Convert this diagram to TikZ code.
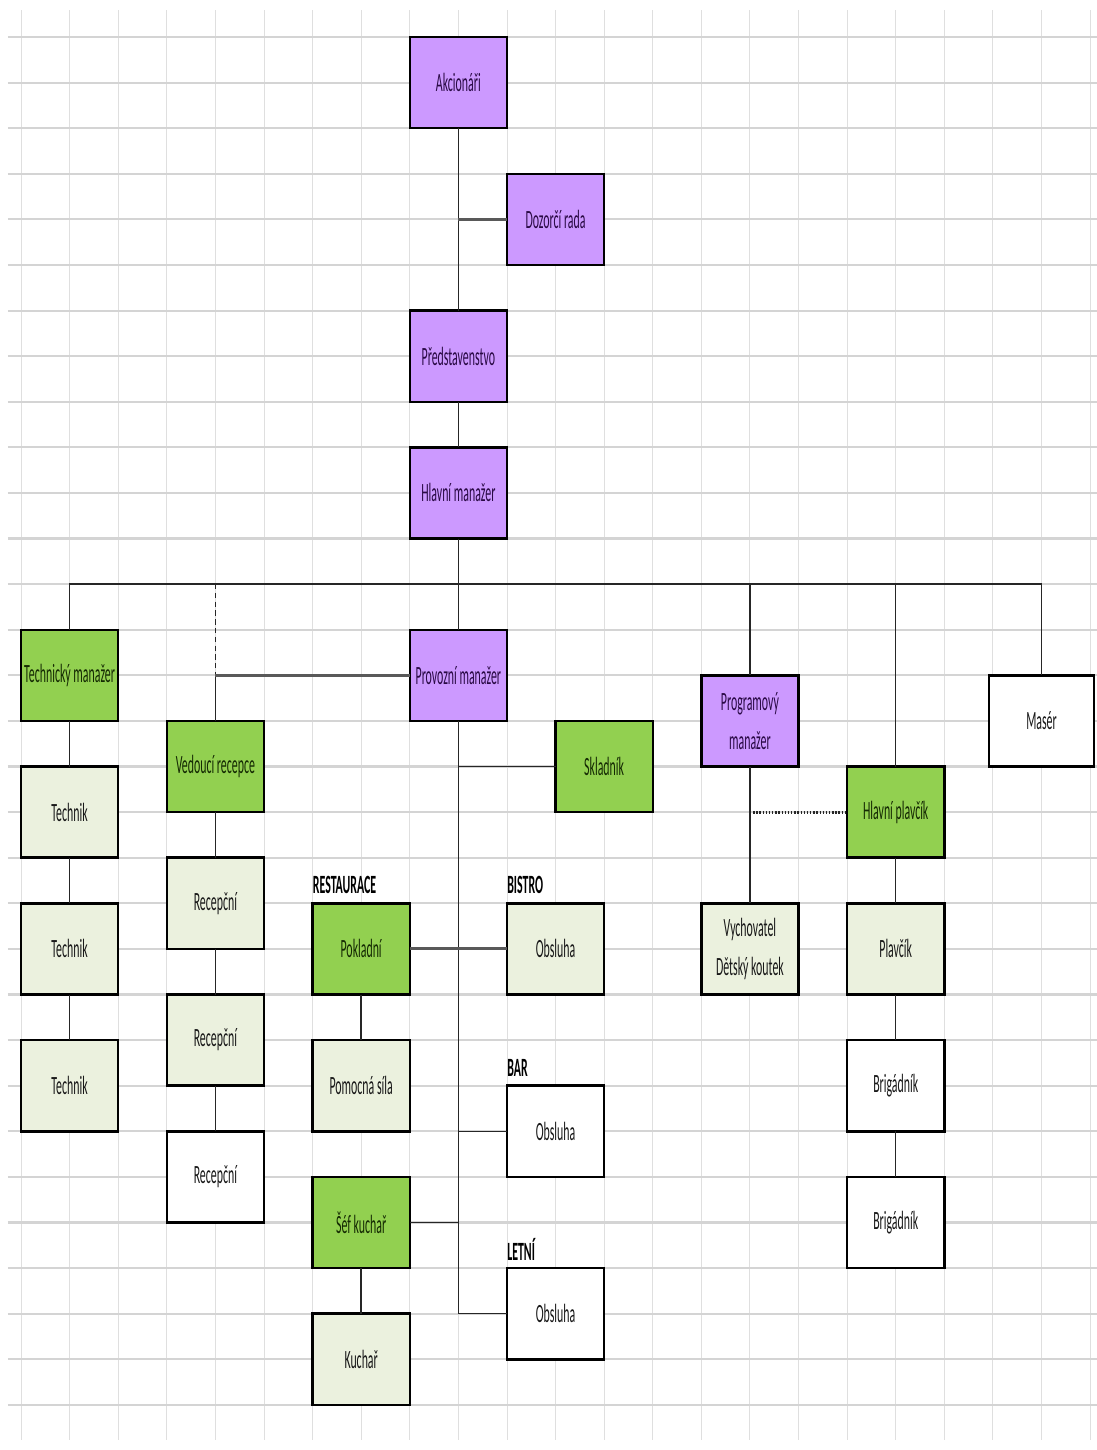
\documentclass[tikz,border=0pt]{standalone}
\usepackage{fontspec}
\setmainfont{Carlito}[FakeStretch=0.45]
\usetikzlibrary{positioning}

\definecolor{purplebox}{HTML}{CC99FF}
\definecolor{greenbox}{HTML}{92D050}
\definecolor{lightbox}{HTML}{EBF1DE}
\definecolor{gridgray}{HTML}{D4D4D4}
\definecolor{purpletext}{HTML}{2A0A45}
\definecolor{greentext}{HTML}{152A03}

\begin{document}
\begin{tikzpicture}[
  x=0.972cm, y=-0.912cm,
  box/.style={rectangle,draw=black,line width=1.4pt,minimum width=1.944cm,
              minimum height=1.824cm,inner sep=1pt,outer sep=0pt,align=center,
              font=\fontsize{15pt}{22pt}\selectfont,
              append after command={[draw=black,line width=2.4pt]
                (\tikzlastnode.south west) -- (\tikzlastnode.south east)}},
  purplebx/.style={box,fill=purplebox,text=purpletext},
  greenbx/.style={box,fill=greenbox,text=greentext},
  lightbx/.style={box,fill=lightbox,text=black!90},
  whitebx/.style={box,fill=white,text=black!90},
  section/.style={font=\fontsize{15pt}{18pt}\selectfont\bfseries,anchor=west,inner sep=0pt},
  conn/.style={draw=black!85,line width=0.8pt},
  thickconn/.style={draw=black!65,line width=1.8pt},
  gridv/.style={draw=gridgray!75,line width=0.5pt},
  gridh/.style={draw=gridgray,line width=1.2pt},
]

\useasboundingbox (-0.432,-0.811) rectangle (22.14,30.99);
\fill[white] (-0.432,-0.811) rectangle (22.14,30.99);

% === sheet grid ===
\foreach \c in {0,...,22} \draw[gridv] (\c,-0.59) -- (\c,30.76);
\foreach \r in {0,...,30} \draw[gridh] (-0.27,\r) -- (22.14,\r);

% === top management ===
\node[purplebx] (akc) at (9,1) {Akcionáři};
\node[purplebx] (dozor) at (11,4) {Dozorčí rada};
\node[purplebx] (pred) at (9,7) {Představenstvo};
\node[purplebx] (hlm) at (9,10) {Hlavní manažer};

% === second level ===
\node[greenbx] (techm) at (1,14) {Technický manažer};
\node[greenbx] (vedr) at (4,16) {Vedoucí recepce};
\node[purplebx] (provm) at (9,14) {Provozní manažer};
\node[greenbx] (sklad) at (12,16) {Skladník};
\node[purplebx] (progm) at (15,15) {Programový\\manažer};
\node[whitebx,minimum width=2.1cm] (maser) at (21,15) {Masér};
\node[greenbx] (hlpl) at (18,17) {Hlavní plavčík};

% === technici, recepce ===
\node[lightbx] (tech1) at (1,17) {Technik};
\node[lightbx] (tech2) at (1,20) {Technik};
\node[lightbx] (tech3) at (1,23) {Technik};
\node[lightbx] (rec1) at (4,19) {Recepční};
\node[lightbx] (rec2) at (4,22) {Recepční};
\node[whitebx] (rec3) at (4,25) {Recepční};

% === restaurace, bistro, bar, letni ===
\node[section] (lblrest) at (6,18.6) {RESTAURACE};
\node[greenbx] (pokl) at (7,20) {Pokladní};
\node[lightbx] (pomoc) at (7,23) {Pomocná síla};
\node[greenbx] (sef) at (7,26) {Šéf kuchař};
\node[lightbx] (kuch) at (7,29) {Kuchař};

\node[section] (lblbistro) at (10,18.6) {BISTRO};
\node[lightbx] (obsB) at (11,20) {Obsluha};
\node[section] (lblbar) at (10,22.6) {BAR};
\node[whitebx] (obsR) at (11,24) {Obsluha};
\node[section] (lblletni) at (10,26.6) {LETNÍ};
\node[whitebx] (obsL) at (11,28) {Obsluha};

% === program, plavci ===
\node[lightbx] (vych) at (15,20) {Vychovatel\\Dětský koutek};
\node[lightbx] (plav) at (18,20) {Plavčík};
\node[whitebx] (brig1) at (18,23) {Brigádník};
\node[whitebx] (brig2) at (18,26) {Brigádník};

% === connectors ===
\coordinate (bus) at (9,12);
\draw[conn] (akc.south) -- (pred.north);
\draw[thickconn] (akc.south |- dozor.west) -- (dozor.west);
\draw[conn] (pred.south) -- (hlm.north);
\draw[conn] (hlm.south) -- (provm.north);
\draw[conn] (techm.north) -- (techm.north |- bus) -- (maser.north |- bus) -- (maser.north);
\draw[conn] (progm.north) -- (progm.north |- bus);
\draw[conn] (hlpl.north) -- (hlpl.north |- bus);
\draw[conn,densely dashed,line width=0.5pt] (vedr.north |- bus) -- (vedr.north |- provm.west);
\draw[conn] (vedr.north |- provm.west) -- (vedr.north);
\draw[thickconn] (vedr.north |- provm.west) -- (provm.west);

\foreach \a/\b in {techm/tech1,tech1/tech2,tech2/tech3,vedr/rec1,rec1/rec2,rec2/rec3,
                   pokl/pomoc,sef/kuch,progm/vych,hlpl/plav,plav/brig1,brig1/brig2}
  \draw[conn] (\a.south) -- (\b.north);

\draw[conn] (provm.south) -- (provm.south |- obsL.west) -- (obsL.west);
\draw[conn] (provm.south |- sklad.west) -- (sklad.west);
\draw[thickconn] (pokl.east) -- (obsB.west);
\draw[conn] (provm.south |- obsR.west) -- (obsR.west);
\draw[conn] (sef.east) -- (sef.east -| provm.south);
\draw[conn,densely dotted,line width=1.6pt] (progm.south |- hlpl.west) -- (hlpl.west);

\end{tikzpicture}
\end{document}
